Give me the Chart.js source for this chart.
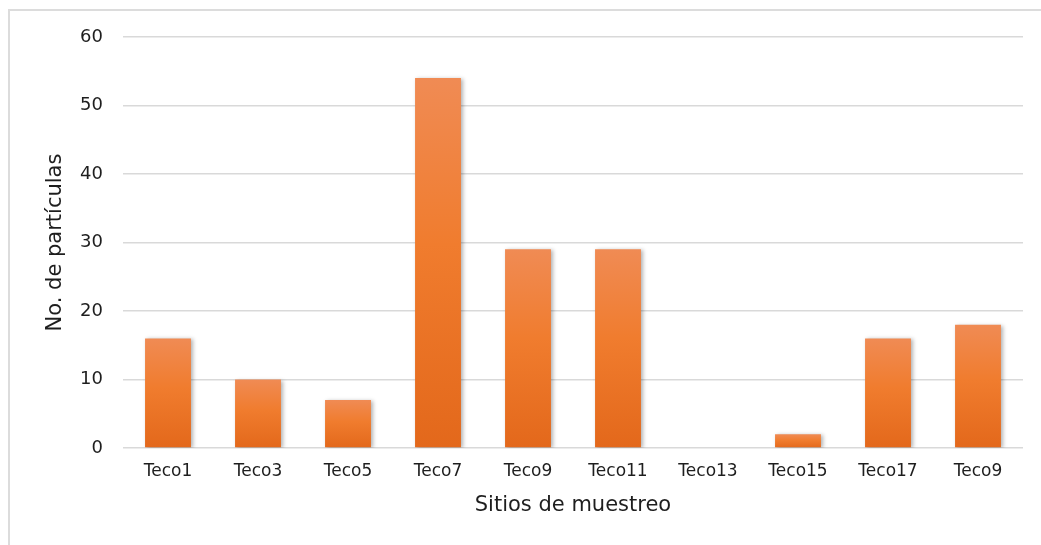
<!DOCTYPE html>
<html>
<head>
<meta charset="utf-8">
<script src="https://cdn.jsdelivr.net/npm/chart.js@4"></script>
<style>
  body { margin: 0; background: #fff; overflow: hidden; }
  #frame { position: absolute; left: 8px; top: 9px; width: 1100px; height: 600px; border: 2px solid #dcdcdc; }
  #chart { position: absolute; left: 0; top: 0; }
</style>
</head>
<body>
<div id="frame"></div>
<canvas id="chart" width="1041" height="545"></canvas>
<script>
// Data
var sitios = ["Teco1", "Teco3", "Teco5", "Teco7", "Teco9", "Teco11", "Teco13", "Teco15", "Teco17", "Teco9"];
var particulas = [16, 10, 7, 54, 29, 29, 0, 2, 16, 18];
var yTicks = [0, 10, 20, 30, 40, 50, 60];

var fontFamily = "'DejaVu Sans', sans-serif";
var textColor = "#1e1e1e";

// gradient per bar, light at the top, darker at the base
function barFill(c) {
  var chart = c.chart;
  if (c.type !== 'data' || !chart.scales.y || !chart.chartArea) return '#ef7a2c';
  var y = chart.scales.y;
  var top = y.getPixelForValue(c.raw);
  var bot = y.getPixelForValue(0);
  if (bot - top < 1) return '#ef7a2c';
  var g = chart.ctx.createLinearGradient(0, top, 0, bot);
  g.addColorStop(0, '#f08b54');
  g.addColorStop(0.45, '#f07c2e');
  g.addColorStop(1, '#e3681b');
  return g;
}

var shadowPlugin = {
  id: 'barShadow',
  beforeDatasetsDraw: function (chart) {
    var ctx = chart.ctx;
    ctx.save();
    ctx.shadowColor = 'rgba(0,0,0,0.3)';
    ctx.shadowBlur = 4;
    ctx.shadowOffsetX = 2;
    ctx.shadowOffsetY = 1;
  },
  afterDatasetsDraw: function (chart) {
    chart.ctx.restore();
  }
};

var chart = new Chart(document.getElementById('chart').getContext('2d'), {
  type: 'bar',
  data: {
    labels: sitios,
    datasets: [{
      data: particulas,
      backgroundColor: barFill,
      borderWidth: 0,
      categoryPercentage: 1,
      barPercentage: 0.51
    }]
  },
  plugins: [shadowPlugin],
  options: {
    responsive: false,
    animation: false,
    layout: { padding: { left: 0, right: 18, top: 37, bottom: 0 } },
    plugins: {
      legend: { display: false },
      tooltip: { enabled: false }
    },
    scales: {
      x: {
        grid: { display: false, drawTicks: false },
        border: { display: false },
        ticks: {
          color: textColor,
          padding: 13,
          font: { family: fontFamily, size: 17 },
          maxRotation: 0,
          autoSkip: false
        },
        title: {
          display: true,
          text: 'Sitios de muestreo',
          color: textColor,
          font: { family: fontFamily, size: 21 },
          padding: { top: 0, bottom: 27 }
        },
        afterFit: function (s) { s.height = 97; }
      },
      y: {
        min: 0,
        max: 60,
        afterBuildTicks: function (s) { s.ticks = yTicks.map(function (v) { return { value: v }; }); },
        grid: { color: '#d9d9d9', lineWidth: 1.5, drawTicks: false },
        border: { display: false },
        ticks: {
          color: textColor,
          padding: 20,
          font: { family: fontFamily, size: 18 }
        },
        title: {
          display: true,
          text: 'No. de partículas',
          color: textColor,
          font: { family: fontFamily, size: 21 },
          padding: { top: 43, bottom: 0 }
        },
        afterFit: function (s) { s.width = 123; }
      }
    }
  }
});
</script>
</body>
</html>
